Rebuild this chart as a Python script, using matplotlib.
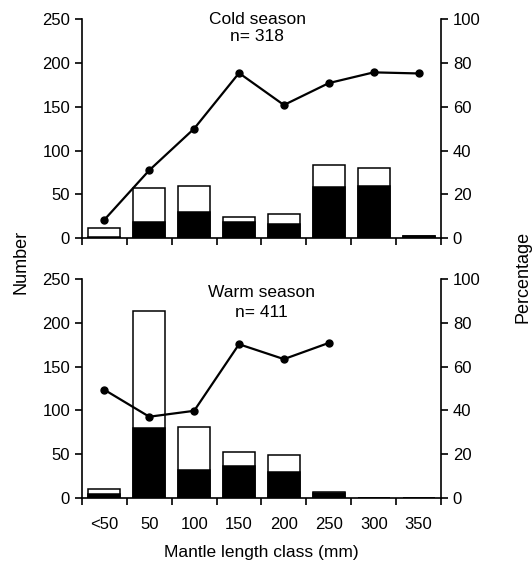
import matplotlib
matplotlib.use("Agg")
import matplotlib.pyplot as plt
import numpy as np

plt.rcParams['font.family'] = ['Liberation Sans', 'DejaVu Sans']

categories = ["<50", "50", "100", "150", "200", "250", "300", "350"]

cold_total = [12, 57, 60, 24, 28, 84, 80, 3]
cold_black = [1, 18, 30, 18, 16, 58, 59, 3]
cold_pct = [8.4, 31, 50, 75.4, 60.8, 70.8, 75.7, 75.2]

warm_total = [10, 213, 81, 53, 49, 7, 0, 0]
warm_black = [5, 80, 32, 37, 30, 6, 0, 0]
warm_pct = [49.4, 37.1, 39.8, 70.2, 63.4, 70.8]

fig = plt.figure(figsize=(5.32, 5.63), dpi=100)

def panel(rect, total, black, pct, title, ntext, ty1, ty2, tx, show_xlabels):
    ax = fig.add_axes(rect)
    x = np.arange(len(categories)) + 0.5
    ax.bar(x, total, width=0.71, color='white', edgecolor='black', linewidth=1.1, zorder=2)
    ax.bar(x, black, width=0.71, color='black', edgecolor='black', linewidth=1.1, zorder=3)
    ax.set_xlim(0, 8)
    ax.set_ylim(0, 250)
    ax.set_yticks([0, 50, 100, 150, 200, 250])
    ax.set_xticks(np.arange(0, 9))
    ax.set_xticklabels([])
    ax.set_xticks(x, minor=True)
    if show_xlabels:
        ax.set_xticklabels(categories, minor=True)
    ax.tick_params(axis='x', which='minor', length=0, labelsize=12, pad=14)
    ax.tick_params(axis='x', which='major', direction='out', length=5, width=1.2)
    ax.tick_params(axis='y', direction='out', length=5, width=1.2, labelsize=12)
    ax.spines['top'].set_visible(False)
    ax.spines['right'].set_visible(False)
    for s in ['left', 'bottom']:
        ax.spines[s].set_linewidth(1.2)
    ax2 = ax.twinx()
    ax2.set_ylim(0, 100)
    ax2.set_yticks([0, 20, 40, 60, 80, 100])
    ax2.plot(x[:len(pct)], pct, color='black', linewidth=1.6, marker='o', markersize=5, zorder=4)
    ax2.tick_params(axis='y', direction='out', length=5, width=1.2, labelsize=12)
    ax2.spines['top'].set_visible(False)
    ax2.spines['left'].set_visible(False)
    ax2.spines['bottom'].set_visible(False)
    ax2.spines['right'].set_linewidth(1.2)
    ax.text(tx, ty1, title, transform=ax.transAxes, ha='center', va='center', fontsize=12.5)
    ax.text(tx, ty2, ntext, transform=ax.transAxes, ha='center', va='center', fontsize=12.5)
    return ax

panel([0.154, 0.577, 0.675, 0.389], cold_total, cold_black, cold_pct,
      "Cold season", "n= 318", 1.0, 0.92, 0.488, False)
axb = panel([0.154, 0.1155, 0.675, 0.389], warm_total, warm_black, warm_pct,
            "Warm season", "n= 411", 0.94, 0.845, 0.5, True)
axb.set_xlabel("Mantle length class (mm)", fontsize=12.5, labelpad=9)

fig.text(0.040, 0.535, "Number", rotation=90, ha='center', va='center', fontsize=13)
fig.text(0.983, 0.508, "Percentage", rotation=90, ha='center', va='center', fontsize=13)

fig.savefig("out.png", dpi=100)
